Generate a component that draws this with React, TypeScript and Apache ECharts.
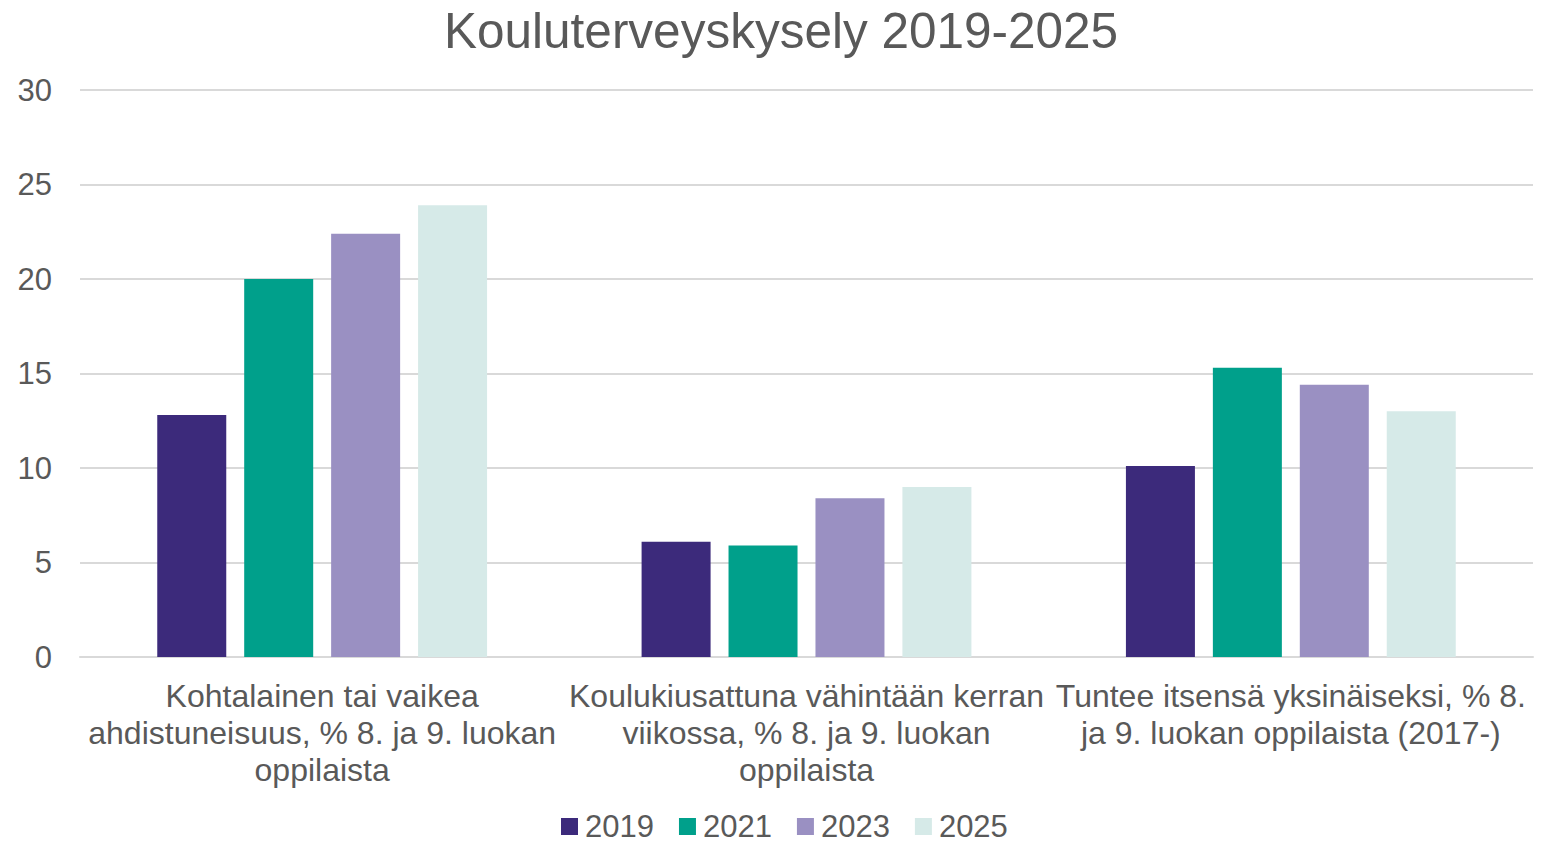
import React, { useEffect, useRef } from "react";
import * as echarts from "echarts";

const categories = [
  "Kohtalainen tai vaikea\nahdistuneisuus, % 8. ja 9. luokan\noppilaista",
  "Koulukiusattuna vähintään kerran\nviikossa, % 8. ja 9. luokan\noppilaista",
  "Tuntee itsensä yksinäiseksi, % 8.\nja 9. luokan oppilaista (2017-)",
];
const years = ["2019", "2021", "2023", "2025"];
const values2019 = [12.8, 6.1, 10.1];
const values2021 = [20.0, 5.9, 15.3];
const values2023 = [22.4, 8.4, 14.4];
const values2025 = [23.9, 9.0, 13.0];
const seriesValues = [values2019, values2021, values2023, values2025];
const colors = ["#3C2A7B", "#00A08B", "#9A90C2", "#D6EAE8"];
const titleText = "Kouluterveyskysely 2019-2025";

export default function App() {
  const ref = useRef<HTMLDivElement>(null);
  useEffect(() => {
    if (!ref.current) return;
    const chart = echarts.init(ref.current, undefined, { renderer: "svg" });
    const font = "'Liberation Sans', Arial, sans-serif";
    chart.setOption({
      animation: false,
      textStyle: { fontFamily: font },
      title: {
        text: titleText,
        left: 444,
        top: 0,
        padding: [5, 0, 5, 0],
        textStyle: { fontSize: 49.5, fontWeight: "normal", color: "#595959", fontFamily: font },
      },
      legend: {
        top: 811,
        left: 561,
        padding: 0,
        itemWidth: 17,
        itemHeight: 17,
        itemGap: 25,
        icon: "rect",
        textStyle: {
          fontSize: 31,
          lineHeight: 30,
          color: "#595959",
          fontFamily: font,
          padding: [0, 0, 0, 2],
        },
        data: years,
      },
      grid: { left: 80, right: 14, top: 90, bottom: 187, containLabel: false },
      xAxis: {
        type: "category",
        data: categories,
        axisLine: { show: true, lineStyle: { color: "#D9D9D9", width: 2 } },
        axisTick: { show: false },
        axisLabel: {
          interval: 0,
          margin: 20,
          fontSize: 32,
          lineHeight: 37,
          color: "#595959",
          fontFamily: font,
        },
      },
      yAxis: {
        type: "value",
        min: 0,
        max: 30,
        interval: 5,
        axisLine: { show: false },
        axisTick: { show: false },
        axisLabel: { fontSize: 31, color: "#595959", margin: 28, fontFamily: font },
        splitLine: { lineStyle: { color: "#D9D9D9", width: 2 } },
      },
      series: years.map((y, i) => ({
        name: y,
        type: "bar",
        data: seriesValues[i],
        barWidth: 69,
        barGap: "26%",
        itemStyle: { color: colors[i] },
      })),
    });
    return () => chart.dispose();
  }, []);
  return (
    <div
      ref={ref}
      style={{ position: "fixed", left: 0, top: 0, width: 1547, height: 844, background: "#fff" }}
    />
  );
}
